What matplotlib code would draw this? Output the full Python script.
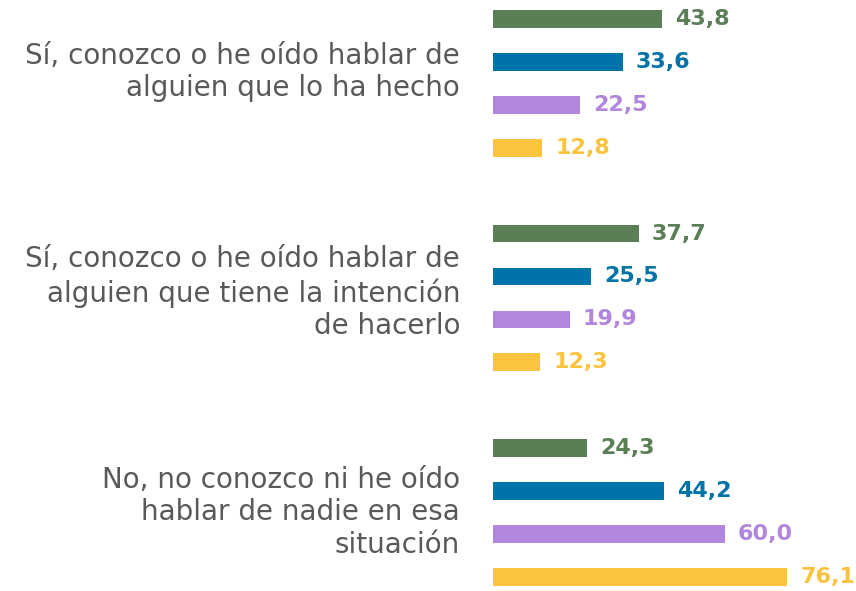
import numpy as np
import matplotlib.pyplot as plt

categories = [
    "Sí, conozco o he oído hablar de\nalguien que lo ha hecho",
    "Sí, conozco o he oído hablar de\nalguien que tiene la intención\nde hacerlo",
    "No, no conozco ni he oído\nhablar de nadie en esa\nsituación",
]
serie_1 = [43.8, 37.7, 24.3]
serie_2 = [33.6, 25.5, 44.2]
serie_3 = [22.5, 19.9, 60.0]
serie_4 = [12.8, 12.3, 76.1]

colors = ["#5a7f56", "#0074a8", "#b286dc", "#fcc43e"]
series = [serie_1, serie_2, serie_3, serie_4]

fig = plt.figure(figsize=(8.56, 5.91), dpi=100)
ax = fig.add_axes([493 / 856, 0, 1 - 493 / 856, 1])

group_pos = np.arange(len(categories)) * 5
for j, (vals, c) in enumerate(zip(series, colors)):
    y = group_pos + j
    ax.barh(y, vals, height=0.41, color=c)
    for yy, v in zip(y, vals):
        ax.text(v + 3.4, yy, f"{v:.1f}".replace(".", ","), color=c,
                fontsize=16, fontweight="bold", family="DejaVu Sans",
                va="center", ha="left")

# etiquetas de categoría a la izquierda
label_shift = [-0.27, -0.12, 0]
for g, cat, dy in zip(group_pos, categories, label_shift):
    ax.text(-8.5, g + 1.5 + dy, cat, fontsize=20, color="#595959",
            family="DejaVu Sans", ha="right", va="center",
            multialignment="right", linespacing=1.2)

ax.set_xlim(0, 94)
ax.set_ylim(13.33, -0.443)
ax.set_xticks([])
ax.set_yticks([])
for s in ax.spines.values():
    s.set_visible(False)

fig.savefig("out.png", dpi=100)
